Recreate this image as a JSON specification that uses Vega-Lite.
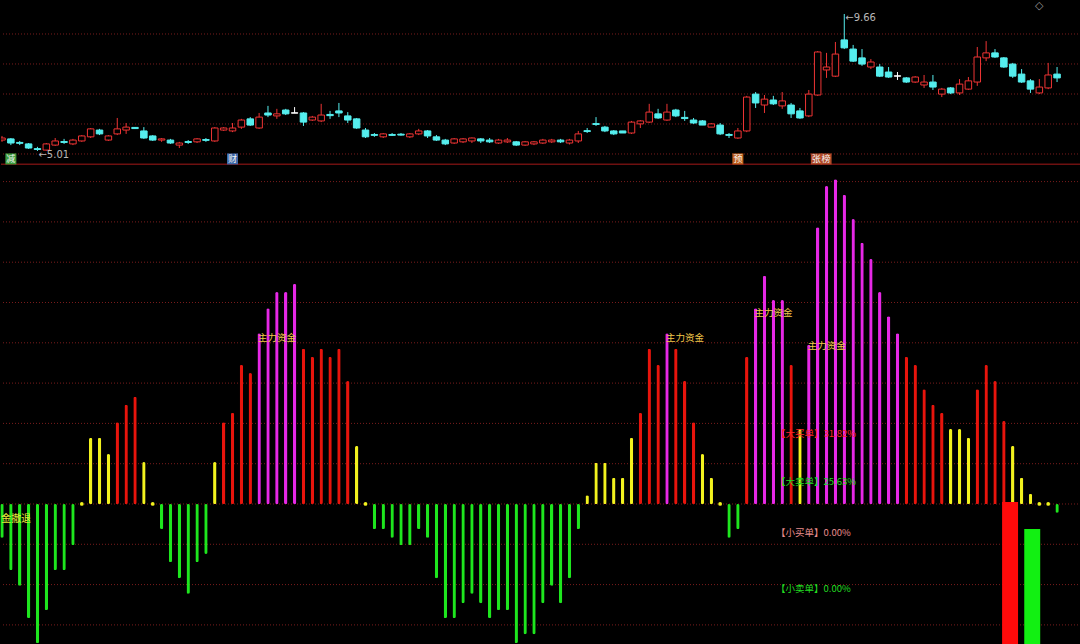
{
  "$schema": "https://vega.github.io/schema/vega-lite/v6.json",
  "background": "#000000",
  "padding": 0,
  "spacing": 0,
  "config": {"view": {"stroke": null}, "axis": {"disable": true}, "text": {"font": "Noto Sans CJK SC"}},
  "datasets": {
    "k": [
      {"i":0,"o":5.38,"c":5.45,"h":5.52,"l":5.32,"d":"up"},
      {"i":1,"o":5.42,"c":5.28,"h":5.45,"l":5.21,"d":"down"},
      {"i":2,"o":5.30,"c":5.27,"h":5.35,"l":5.21,"d":"down"},
      {"i":3,"o":5.25,"c":5.11,"h":5.28,"l":5.08,"d":"down"},
      {"i":4,"o":5.09,"c":5.06,"h":5.15,"l":5.01,"d":"down"},
      {"i":5,"o":5.04,"c":5.25,"h":5.28,"l":5.02,"d":"up"},
      {"i":6,"o":5.21,"c":5.35,"h":5.45,"l":5.18,"d":"up"},
      {"i":7,"o":5.33,"c":5.30,"h":5.42,"l":5.25,"d":"down"},
      {"i":8,"o":5.25,"c":5.38,"h":5.42,"l":5.21,"d":"up"},
      {"i":9,"o":5.35,"c":5.52,"h":5.55,"l":5.32,"d":"up"},
      {"i":10,"o":5.49,"c":5.76,"h":5.79,"l":5.45,"d":"up"},
      {"i":11,"o":5.72,"c":5.59,"h":5.76,"l":5.55,"d":"down"},
      {"i":12,"o":5.38,"c":5.52,"h":5.55,"l":5.35,"d":"up"},
      {"i":13,"o":5.59,"c":5.76,"h":6.13,"l":5.55,"d":"up"},
      {"i":14,"o":5.72,"c":5.82,"h":5.96,"l":5.59,"d":"up"},
      {"i":15,"o":5.81,"c":5.77,"h":5.82,"l":5.76,"d":"down"},
      {"i":16,"o":5.69,"c":5.45,"h":5.82,"l":5.42,"d":"down"},
      {"i":17,"o":5.52,"c":5.38,"h":5.55,"l":5.35,"d":"down"},
      {"i":18,"o":5.38,"c":5.42,"h":5.45,"l":5.32,"d":"up"},
      {"i":19,"o":5.38,"c":5.28,"h":5.42,"l":5.25,"d":"down"},
      {"i":20,"o":5.21,"c":5.28,"h":5.32,"l":5.11,"d":"up"},
      {"i":21,"o":5.33,"c":5.30,"h":5.38,"l":5.25,"d":"down"},
      {"i":22,"o":5.32,"c":5.42,"h":5.45,"l":5.28,"d":"up"},
      {"i":23,"o":5.40,"c":5.37,"h":5.45,"l":5.32,"d":"down"},
      {"i":24,"o":5.35,"c":5.79,"h":5.82,"l":5.32,"d":"up"},
      {"i":25,"o":5.72,"c":5.79,"h":5.82,"l":5.69,"d":"up"},
      {"i":26,"o":5.69,"c":5.79,"h":5.96,"l":5.65,"d":"up"},
      {"i":27,"o":5.82,"c":6.06,"h":6.10,"l":5.76,"d":"up"},
      {"i":28,"o":6.10,"c":5.89,"h":6.16,"l":5.86,"d":"down"},
      {"i":29,"o":5.79,"c":6.16,"h":6.30,"l":5.76,"d":"up"},
      {"i":30,"o":6.30,"c":6.23,"h":6.54,"l":6.16,"d":"down"},
      {"i":31,"o":6.20,"c":6.27,"h":6.44,"l":6.10,"d":"up"},
      {"i":32,"o":6.40,"c":6.27,"h":6.44,"l":6.23,"d":"down"},
      {"i":33,"o":6.305,"c":6.295,"h":6.50,"l":6.295,"d":"flat"},
      {"i":34,"o":6.30,"c":5.99,"h":6.33,"l":5.86,"d":"down"},
      {"i":35,"o":6.06,"c":6.16,"h":6.20,"l":6.03,"d":"up"},
      {"i":36,"o":6.03,"c":6.23,"h":6.61,"l":5.99,"d":"up"},
      {"i":37,"o":6.25,"c":6.21,"h":6.37,"l":6.10,"d":"down"},
      {"i":38,"o":6.37,"c":6.30,"h":6.64,"l":6.16,"d":"down"},
      {"i":39,"o":6.20,"c":6.06,"h":6.33,"l":5.96,"d":"down"},
      {"i":40,"o":6.10,"c":5.79,"h":6.13,"l":5.76,"d":"down"},
      {"i":41,"o":5.72,"c":5.49,"h":5.79,"l":5.45,"d":"down"},
      {"i":42,"o":5.57,"c":5.54,"h":5.62,"l":5.49,"d":"down"},
      {"i":43,"o":5.49,"c":5.59,"h":5.62,"l":5.45,"d":"up"},
      {"i":44,"o":5.57,"c":5.54,"h":5.62,"l":5.52,"d":"down"},
      {"i":45,"o":5.58,"c":5.55,"h":5.62,"l":5.53,"d":"down"},
      {"i":46,"o":5.49,"c":5.59,"h":5.62,"l":5.45,"d":"up"},
      {"i":47,"o":5.59,"c":5.69,"h":5.76,"l":5.55,"d":"up"},
      {"i":48,"o":5.69,"c":5.52,"h":5.72,"l":5.45,"d":"down"},
      {"i":49,"o":5.49,"c":5.38,"h":5.55,"l":5.35,"d":"down"},
      {"i":50,"o":5.38,"c":5.25,"h":5.42,"l":5.21,"d":"down"},
      {"i":51,"o":5.28,"c":5.42,"h":5.45,"l":5.25,"d":"up"},
      {"i":52,"o":5.32,"c":5.42,"h":5.45,"l":5.28,"d":"up"},
      {"i":53,"o":5.35,"c":5.45,"h":5.47,"l":5.28,"d":"up"},
      {"i":54,"o":5.42,"c":5.35,"h":5.45,"l":5.28,"d":"down"},
      {"i":55,"o":5.38,"c":5.32,"h":5.45,"l":5.28,"d":"down"},
      {"i":56,"o":5.28,"c":5.38,"h":5.42,"l":5.25,"d":"up"},
      {"i":57,"o":5.32,"c":5.38,"h":5.45,"l":5.28,"d":"up"},
      {"i":58,"o":5.32,"c":5.21,"h":5.35,"l":5.18,"d":"down"},
      {"i":59,"o":5.21,"c":5.32,"h":5.35,"l":5.18,"d":"up"},
      {"i":60,"o":5.25,"c":5.32,"h":5.35,"l":5.21,"d":"up"},
      {"i":61,"o":5.28,"c":5.38,"h":5.42,"l":5.25,"d":"up"},
      {"i":62,"o":5.32,"c":5.38,"h":5.42,"l":5.28,"d":"up"},
      {"i":63,"o":5.38,"c":5.32,"h":5.42,"l":5.28,"d":"down"},
      {"i":64,"o":5.28,"c":5.38,"h":5.42,"l":5.23,"d":"up"},
      {"i":65,"o":5.35,"c":5.59,"h":5.69,"l":5.28,"d":"up"},
      {"i":66,"o":5.70,"c":5.67,"h":5.79,"l":5.62,"d":"down"},
      {"i":67,"o":5.94,"c":5.91,"h":6.16,"l":5.86,"d":"down"},
      {"i":68,"o":5.82,"c":5.69,"h":5.86,"l":5.65,"d":"down"},
      {"i":69,"o":5.69,"c":5.59,"h":5.72,"l":5.55,"d":"down"},
      {"i":70,"o":5.69,"c":5.62,"h":5.69,"l":5.62,"d":"down"},
      {"i":71,"o":5.62,"c":5.99,"h":6.03,"l":5.59,"d":"up"},
      {"i":72,"o":5.93,"c":6.03,"h":6.06,"l":5.79,"d":"up"},
      {"i":73,"o":5.99,"c":6.33,"h":6.61,"l":5.96,"d":"up"},
      {"i":74,"o":6.27,"c":6.13,"h":6.44,"l":6.10,"d":"down"},
      {"i":75,"o":6.06,"c":6.33,"h":6.61,"l":6.03,"d":"up"},
      {"i":76,"o":6.40,"c":6.20,"h":6.44,"l":6.16,"d":"down"},
      {"i":77,"o":6.15,"c":6.11,"h":6.37,"l":6.03,"d":"down"},
      {"i":78,"o":6.06,"c":5.96,"h":6.13,"l":5.93,"d":"down"},
      {"i":79,"o":6.03,"c":5.89,"h":6.06,"l":5.89,"d":"down"},
      {"i":80,"o":5.82,"c":5.93,"h":5.96,"l":5.82,"d":"up"},
      {"i":81,"o":5.89,"c":5.59,"h":5.96,"l":5.55,"d":"down"},
      {"i":82,"o":5.57,"c":5.54,"h":5.62,"l":5.45,"d":"down"},
      {"i":83,"o":5.45,"c":5.69,"h":5.79,"l":5.42,"d":"up"},
      {"i":84,"o":5.69,"c":6.84,"h":6.88,"l":5.65,"d":"up"},
      {"i":85,"o":6.94,"c":6.64,"h":7.01,"l":6.47,"d":"down"},
      {"i":86,"o":6.57,"c":6.77,"h":6.91,"l":6.30,"d":"up"},
      {"i":87,"o":6.74,"c":6.61,"h":6.88,"l":6.57,"d":"down"},
      {"i":88,"o":6.54,"c":6.71,"h":7.01,"l":6.44,"d":"up"},
      {"i":89,"o":6.57,"c":6.27,"h":6.64,"l":6.13,"d":"down"},
      {"i":90,"o":6.37,"c":6.13,"h":6.47,"l":6.10,"d":"down"},
      {"i":91,"o":6.20,"c":6.94,"h":7.08,"l":6.16,"d":"up"},
      {"i":92,"o":6.91,"c":8.37,"h":8.40,"l":6.88,"d":"up"},
      {"i":93,"o":7.76,"c":7.86,"h":8.34,"l":7.49,"d":"up"},
      {"i":94,"o":7.55,"c":8.30,"h":8.71,"l":7.52,"d":"up"},
      {"i":95,"o":8.78,"c":8.51,"h":9.66,"l":8.47,"d":"down"},
      {"i":96,"o":8.47,"c":8.06,"h":8.61,"l":8.03,"d":"down"},
      {"i":97,"o":8.17,"c":7.96,"h":8.47,"l":7.90,"d":"down"},
      {"i":98,"o":7.86,"c":8.03,"h":8.13,"l":7.79,"d":"up"},
      {"i":99,"o":7.86,"c":7.55,"h":7.96,"l":7.52,"d":"down"},
      {"i":100,"o":7.69,"c":7.52,"h":7.86,"l":7.49,"d":"down"},
      {"i":101,"o":7.56,"c":7.55,"h":7.69,"l":7.42,"d":"flat"},
      {"i":102,"o":7.49,"c":7.35,"h":7.52,"l":7.32,"d":"down"},
      {"i":103,"o":7.35,"c":7.52,"h":7.55,"l":7.32,"d":"up"},
      {"i":104,"o":7.25,"c":7.35,"h":7.59,"l":7.15,"d":"up"},
      {"i":105,"o":7.35,"c":7.18,"h":7.59,"l":7.08,"d":"down"},
      {"i":106,"o":6.94,"c":7.11,"h":7.15,"l":6.84,"d":"up"},
      {"i":107,"o":7.15,"c":6.98,"h":7.18,"l":6.94,"d":"down"},
      {"i":108,"o":6.98,"c":7.28,"h":7.45,"l":6.91,"d":"up"},
      {"i":109,"o":7.11,"c":7.39,"h":7.52,"l":7.08,"d":"up"},
      {"i":110,"o":7.35,"c":8.20,"h":8.54,"l":7.22,"d":"up"},
      {"i":111,"o":8.17,"c":8.34,"h":8.74,"l":8.06,"d":"up"},
      {"i":112,"o":8.34,"c":8.20,"h":8.47,"l":8.17,"d":"down"},
      {"i":113,"o":8.17,"c":7.86,"h":8.20,"l":7.83,"d":"down"},
      {"i":114,"o":7.96,"c":7.55,"h":8.00,"l":7.49,"d":"down"},
      {"i":115,"o":7.62,"c":7.35,"h":7.79,"l":7.32,"d":"down"},
      {"i":116,"o":7.39,"c":7.11,"h":7.45,"l":6.98,"d":"down"},
      {"i":117,"o":6.98,"c":7.18,"h":7.45,"l":6.94,"d":"up"},
      {"i":118,"o":7.15,"c":7.59,"h":8.00,"l":7.11,"d":"up"},
      {"i":119,"o":7.62,"c":7.49,"h":7.86,"l":7.35,"d":"down"}
    ],
    "b": [
      {"i":0,"v":-0.84,"c":"g"},{"i":1,"v":-1.64,"c":"g"},{"i":2,"v":-2.03,"c":"g"},{"i":3,"v":-2.83,"c":"g"},
      {"i":4,"v":-3.45,"c":"g"},{"i":5,"v":-2.63,"c":"g"},{"i":6,"v":-1.64,"c":"g"},{"i":7,"v":-1.64,"c":"g"},
      {"i":8,"v":-1.02,"c":"g"},{"i":9,"v":0,"c":"y"},{"i":10,"v":1.64,"c":"y"},{"i":11,"v":1.64,"c":"y"},
      {"i":12,"v":1.24,"c":"y"},{"i":13,"v":2.03,"c":"r"},{"i":14,"v":2.46,"c":"r"},{"i":15,"v":2.66,"c":"r"},
      {"i":16,"v":1.04,"c":"y"},{"i":17,"v":0,"c":"y"},{"i":18,"v":-0.62,"c":"g"},{"i":19,"v":-1.44,"c":"g"},
      {"i":20,"v":-1.84,"c":"g"},{"i":21,"v":-2.23,"c":"g"},{"i":22,"v":-1.44,"c":"g"},{"i":23,"v":-1.24,"c":"g"},
      {"i":24,"v":1.04,"c":"y"},{"i":25,"v":2.03,"c":"r"},{"i":26,"v":2.26,"c":"r"},{"i":27,"v":3.45,"c":"r"},
      {"i":28,"v":3.25,"c":"r"},{"i":29,"v":4.24,"c":"m"},{"i":30,"v":4.86,"c":"m"},{"i":31,"v":5.26,"c":"m"},
      {"i":32,"v":5.26,"c":"m"},{"i":33,"v":5.46,"c":"m"},{"i":34,"v":3.85,"c":"r"},{"i":35,"v":3.65,"c":"r"},
      {"i":36,"v":3.85,"c":"r"},{"i":37,"v":3.65,"c":"r"},{"i":38,"v":3.85,"c":"r"},{"i":39,"v":3.05,"c":"r"},
      {"i":40,"v":1.44,"c":"y"},{"i":41,"v":0,"c":"y"},{"i":42,"v":-0.62,"c":"g"},{"i":43,"v":-0.62,"c":"g"},
      {"i":44,"v":-0.84,"c":"g"},{"i":45,"v":-1.02,"c":"g"},{"i":46,"v":-1.02,"c":"g"},{"i":47,"v":-0.62,"c":"g"},
      {"i":48,"v":-0.84,"c":"g"},{"i":49,"v":-1.84,"c":"g"},{"i":50,"v":-2.83,"c":"g"},{"i":51,"v":-2.83,"c":"g"},
      {"i":52,"v":-2.46,"c":"g"},{"i":53,"v":-2.23,"c":"g"},{"i":54,"v":-2.46,"c":"g"},{"i":55,"v":-2.83,"c":"g"},
      {"i":56,"v":-2.63,"c":"g"},{"i":57,"v":-2.63,"c":"g"},{"i":58,"v":-3.45,"c":"g"},{"i":59,"v":-3.23,"c":"g"},
      {"i":60,"v":-3.23,"c":"g"},{"i":61,"v":-2.46,"c":"g"},{"i":62,"v":-2.03,"c":"g"},{"i":63,"v":-2.46,"c":"g"},
      {"i":64,"v":-1.84,"c":"g"},{"i":65,"v":-0.62,"c":"g"},{"i":66,"v":0.22,"c":"y"},{"i":67,"v":1.02,"c":"y"},
      {"i":68,"v":1.02,"c":"y"},{"i":69,"v":0.65,"c":"y"},{"i":70,"v":0.65,"c":"y"},{"i":71,"v":1.64,"c":"y"},
      {"i":72,"v":2.26,"c":"r"},{"i":73,"v":3.85,"c":"r"},{"i":74,"v":3.45,"c":"r"},{"i":75,"v":4.24,"c":"m"},
      {"i":76,"v":3.85,"c":"r"},{"i":77,"v":3.05,"c":"r"},{"i":78,"v":2.03,"c":"r"},{"i":79,"v":1.24,"c":"y"},
      {"i":80,"v":0.65,"c":"y"},{"i":81,"v":0,"c":"y"},{"i":82,"v":-0.84,"c":"g"},{"i":83,"v":-0.62,"c":"g"},
      {"i":84,"v":3.65,"c":"r"},{"i":85,"v":4.86,"c":"m"},{"i":86,"v":5.66,"c":"m"},{"i":87,"v":5.06,"c":"m"},
      {"i":88,"v":5.06,"c":"m"},{"i":89,"v":3.45,"c":"r"},{"i":90,"v":1.86,"c":"y"},{"i":91,"v":3.95,"c":"m"},
      {"i":92,"v":6.87,"c":"m"},{"i":93,"v":7.89,"c":"m"},{"i":94,"v":8.06,"c":"m"},{"i":95,"v":7.67,"c":"m"},
      {"i":96,"v":7.07,"c":"m"},{"i":97,"v":6.48,"c":"m"},{"i":98,"v":6.08,"c":"m"},{"i":99,"v":5.26,"c":"m"},
      {"i":100,"v":4.66,"c":"m"},{"i":101,"v":4.24,"c":"m"},{"i":102,"v":3.65,"c":"r"},{"i":103,"v":3.45,"c":"r"},
      {"i":104,"v":2.85,"c":"r"},{"i":105,"v":2.46,"c":"r"},{"i":106,"v":2.26,"c":"r"},{"i":107,"v":1.86,"c":"y"},
      {"i":108,"v":1.86,"c":"y"},{"i":109,"v":1.64,"c":"y"},{"i":110,"v":2.85,"c":"r"},{"i":111,"v":3.45,"c":"r"},
      {"i":112,"v":3.05,"c":"r"},{"i":113,"v":2.06,"c":"r"},{"i":114,"v":1.44,"c":"y"},{"i":115,"v":0.65,"c":"y"},
      {"i":116,"v":0.25,"c":"y"},{"i":117,"v":0,"c":"y"},{"i":118,"v":0,"c":"y"},{"i":119,"v":-0.22,"c":"g"}
    ],
    "w": [
      {"a":112.8,"b":114.6,"t":0.05,"u":-3.49,"c":"R"},
      {"a":115.3,"b":117.1,"t":-0.62,"u":-3.49,"c":"G"}
    ],
    "lab": [
      {"i":29,"v":4.24,"t":"主力资金"},
      {"i":75,"v":4.24,"t":"主力资金"},
      {"i":85,"v":4.86,"t":"主力资金"},
      {"i":91,"v":4.05,"t":"主力资金"}
    ],
    "stat": [
      {"i":87.3,"v":1.74,"t":"【大买单】31.82%","c":"t1"},
      {"i":87.3,"v":0.55,"t":"【大卖单】25.63%","c":"t2"},
      {"i":87.3,"v":-0.72,"t":"【小买单】0.00%","c":"t3"},
      {"i":87.3,"v":-2.11,"t":"【小卖单】0.00%","c":"t4"}
    ],
    "gt": [{"p":8.981},{"p":7.963},{"p":6.944},{"p":5.926},{"p":4.908}],
    "gb": [{"v":-3},{"v":-2},{"v":-1},{"v":0},{"v":1},{"v":2},{"v":3},{"v":4},{"v":5},{"v":6},{"v":7},{"v":8}],
    "hl": [{"i":95,"p":9.66,"t":"←9.66"},{"i":4,"p":5.01,"t":"←5.01"}],
    "ui": [{"i":117.0,"p":9.93,"t":"◇"}],
    "ev1": [{"i":1,"p":4.74,"t":"减","k":"e1"},{"i":26,"p":4.74,"t":"财","k":"e2"},{"i":83,"p":4.74,"t":"预","k":"e3"}],
    "ev2": [{"i":91.85,"p":4.74,"t":"张","k":"e4"},{"i":92.95,"p":4.74,"t":"榜","k":"e4"}]
  },
  "vconcat": [
    {
      "width": 1080,
      "height": 164,
      "layer": [
        {
          "data": {"name": "gt"},
          "mark": {"type": "rule", "color": "#7a1c1c", "strokeDash": [1, 2], "strokeWidth": 1},
          "encoding": {"y": {"field": "p", "type": "quantitative", "scale": {"domain": [4.534, 10.101], "nice": false, "zero": false}}}
        },
        {
          "data": {"values": [{"p": 4.56}]},
          "mark": {"type": "rule", "color": "#6e1010", "strokeWidth": 1.5},
          "encoding": {"y": {"field": "p", "type": "quantitative"}}
        },
        {
          "data": {"name": "k"},
          "mark": {"type": "rule", "strokeWidth": 1, "clip": true},
          "encoding": {
            "x": {"field": "i", "type": "quantitative", "scale": {"domain": [-0.113, 121.7], "nice": false, "zero": false, "padding": 0}},
            "y": {"field": "l", "type": "quantitative"},
            "y2": {"field": "h"},
            "stroke": {"field": "d", "type": "nominal", "scale": {"domain": ["up", "down", "flat"], "range": ["#ee3434", "#55eeee", "#ffffff"]}, "legend": null}
          }
        },
        {
          "data": {"name": "k"},
          "mark": {"type": "bar", "size": 6.5, "strokeWidth": 1, "clip": true},
          "encoding": {
            "x": {"field": "i", "type": "quantitative"},
            "y": {"field": "o", "type": "quantitative"},
            "y2": {"field": "c"},
            "fill": {"field": "d", "type": "nominal", "scale": {"domain": ["up", "down", "flat", "e1", "e2", "e3", "e4"], "range": ["#000000", "#55eeee", "#ffffff", "#3c9c3c", "#3c68a8", "#c0601c", "#b04a28"]}, "legend": null},
            "stroke": {"field": "d", "type": "nominal", "legend": null}
          }
        },
        {
          "data": {"name": "hl"},
          "mark": {"type": "text", "align": "left", "baseline": "middle", "dx": 1, "dy": 4, "fontSize": 10, "color": "#b8b8b8", "font": "DejaVu Sans"},
          "encoding": {
            "x": {"field": "i", "type": "quantitative"},
            "y": {"field": "p", "type": "quantitative"},
            "text": {"field": "t"}
          }
        },
        {
          "data": {"name": "ui"},
          "mark": {"type": "text", "align": "center", "baseline": "middle", "fontSize": 11, "color": "#9a9a9a", "font": "DejaVu Sans"},
          "encoding": {
            "x": {"field": "i", "type": "quantitative"},
            "y": {"field": "p", "type": "quantitative"},
            "text": {"field": "t"}
          }
        },
        {
          "data": {"name": "ev1"},
          "mark": {"type": "point", "shape": "square", "size": 121, "filled": true, "opacity": 1},
          "encoding": {
            "x": {"field": "i", "type": "quantitative"},
            "y": {"field": "p", "type": "quantitative"},
            "fill": {"field": "k", "type": "nominal", "legend": null}
          }
        },
        {
          "data": {"name": "ev2"},
          "mark": {"type": "point", "shape": "square", "size": 121, "filled": true, "opacity": 1},
          "encoding": {
            "x": {"field": "i", "type": "quantitative"},
            "y": {"field": "p", "type": "quantitative"},
            "fill": {"field": "k", "type": "nominal", "legend": null}
          }
        },
        {
          "data": {"name": "ev1"},
          "mark": {"type": "text", "fontSize": 9, "color": "#f2f2f2", "baseline": "middle", "align": "center"},
          "encoding": {
            "x": {"field": "i", "type": "quantitative"},
            "y": {"field": "p", "type": "quantitative"},
            "text": {"field": "t"}
          }
        },
        {
          "data": {"name": "ev2"},
          "mark": {"type": "text", "fontSize": 9, "color": "#f2f2f2", "baseline": "middle", "align": "center"},
          "encoding": {
            "x": {"field": "i", "type": "quantitative"},
            "y": {"field": "p", "type": "quantitative"},
            "text": {"field": "t"}
          }
        }
      ]
    },
    {
      "width": 1080,
      "height": 480,
      "layer": [
        {
          "data": {"name": "gb"},
          "mark": {"type": "rule", "color": "#7a1c1c", "strokeDash": [1, 2], "strokeWidth": 1},
          "encoding": {"y": {"field": "v", "type": "quantitative", "scale": {"domain": [-3.499, 8.412], "nice": false, "zero": false}}}
        },
        {
          "data": {"name": "b"},
          "mark": {"type": "bar", "size": 3.4, "cornerRadius": 1.6},
          "encoding": {
            "x": {"field": "i", "type": "quantitative", "scale": {"domain": [-0.113, 121.7], "nice": false, "zero": false, "padding": 0}},
            "y": {"field": "v", "type": "quantitative"},
            "color": {"field": "c", "type": "nominal", "scale": {"domain": ["g", "y", "r", "m", "R", "G", "t1", "t2", "t3", "t4"], "range": ["#1ee61e", "#f2f21e", "#e8140c", "#e628e6", "#ff0a0a", "#12f012", "#ff2626", "#22dd22", "#e88c8c", "#22dd22"]}, "legend": null}
          }
        },
        {
          "data": {"name": "b"},
          "transform": [{"filter": "datum.v == 0"}],
          "mark": {"type": "circle", "size": 14, "opacity": 1, "clip": true},
          "encoding": {
            "x": {"field": "i", "type": "quantitative"},
            "y": {"field": "v", "type": "quantitative"},
            "color": {"field": "c", "type": "nominal", "legend": null}
          }
        },
        {
          "data": {"name": "w"},
          "mark": {"type": "bar", "clip": true},
          "encoding": {
            "x": {"field": "a", "type": "quantitative"},
            "x2": {"field": "b"},
            "y": {"field": "t", "type": "quantitative"},
            "y2": {"field": "u"},
            "color": {"field": "c", "type": "nominal", "legend": null}
          }
        },
        {
          "data": {"name": "lab"},
          "mark": {"type": "text", "align": "left", "baseline": "top", "dx": -1, "fontSize": 9.5, "color": "#f2c84b"},
          "encoding": {
            "x": {"field": "i", "type": "quantitative"},
            "y": {"field": "v", "type": "quantitative"},
            "text": {"field": "t"}
          }
        },
        {
          "data": {"values": [{"i": 0, "v": -0.37, "t": "资金撤退"}]},
          "mark": {"type": "text", "align": "left", "baseline": "middle", "dx": -11, "fontSize": 10, "color": "#eaea3a", "clip": true},
          "encoding": {
            "x": {"field": "i", "type": "quantitative"},
            "y": {"field": "v", "type": "quantitative"},
            "text": {"field": "t"}
          }
        },
        {
          "data": {"name": "stat"},
          "mark": {"type": "text", "align": "left", "baseline": "middle", "fontSize": 9.5},
          "encoding": {
            "x": {"field": "i", "type": "quantitative"},
            "y": {"field": "v", "type": "quantitative"},
            "text": {"field": "t"},
            "color": {"field": "c", "type": "nominal", "legend": null}
          }
        }
      ]
    }
  ]
}
